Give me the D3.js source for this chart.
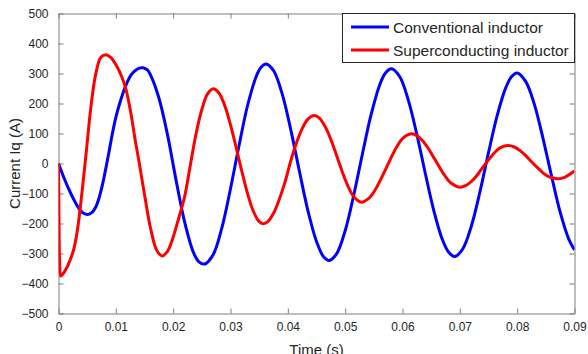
<!DOCTYPE html>
<html lang="en">
  <head>
    <meta charset="utf-8" />
    <style type="text/css">
      body {
        margin: 0;
        background: #fff;
      }
      svg text {
        font-family: "Liberation Sans", Arial, sans-serif;
        fill: #262626;
      }
      .axis path,
      .axis line {
        stroke: #7f7f7f;
      }
    </style>
  </head>
  <body>
    <svg width="588" height="354"></svg>

    <script src="https://d3js.org/d3.v7.min.js"></script>
    <script type="text/javascript">
      // time in ms, current in A
      var blueT = [0, 1, 1.9, 2.8, 3.6, 4.3, 5.1, 5.8, 6.5, 7.1, 7.7, 8.3, 8.85, 9.4, 10, 10.6, 11.2, 12, 12.7, 13.4, 14.1, 14.75,
        15.5, 16, 17.5, 19, 20.5, 22, 23.5, 24.5, 25.5, 27, 28.5, 30, 31.5, 33, 34.5, 35.3, 36.2,
        37.5, 39, 40.5, 42, 43.5, 45, 46.2, 47.2, 48.5, 50, 51.5, 53, 54.5, 56, 57, 58.05,
        59.5, 61, 62.5, 64, 65.5, 67, 68.1, 69.1, 70.5, 72, 73.5, 75, 76.5, 78, 79, 80,
        81.5, 83, 84.5, 86, 87.5, 89, 90];
      var blueI = [0, -50, -90, -125, -151, -165, -170, -164, -145, -113, -68, -12, 43, 100, 154, 196, 232, 271, 296, 310, 318, 319,
        312, 297, 219, 97, -55, -195, -295, -328, -335, -303, -214, -84, 61, 195, 291, 320, 332,
        310, 233, 114, -24, -157, -260, -310, -323, -301, -224, -105, 31, 161, 261, 301, 316,
        290, 212, 97, -35, -160, -256, -297, -310, -285, -209, -95, 36, 159, 252, 289, 302,
        273, 197, 84, -42, -162, -252, -288];

      var redT = [0, 0.1, 0.2, 0.4, 0.9, 1.5, 2, 2.6, 3.2, 3.75, 4.3, 4.8, 5.65, 6.5, 7.4, 8.4, 9.2, 10, 10.9, 11.7, 12.6, 13.4, 14.1,
        15.1, 16.1, 17.1, 18.05, 19, 20, 21, 22, 23, 24, 25, 26, 27, 28, 29, 30, 31, 32, 33, 34, 35, 35.7,
        36.5, 37.5, 38.5, 39.5, 40.5, 41.5, 42.5, 43.5, 44.6, 45.5, 46.5, 47.5, 48.5, 49.5, 50.5, 51.5, 52.8,
        54, 55, 56, 57, 58, 59, 60, 61.5, 62.5, 63.5, 64.5, 65.5, 66.5, 67.5, 68.5, 70,
        71, 72, 73, 74, 75, 76, 77, 78.3, 79.5, 80.5, 81.5, 82.5, 83.5, 84.5, 85.5, 86.9, 88, 89, 90];
      var redI = [0, -210, -330, -375, -365, -345, -323, -290, -234, -155, -60, 30, 188, 299, 354, 362, 352, 330, 295, 252, 170, 75, 0,
        -115, -220, -288, -308, -293, -245, -180, -110, -5, 100, 180, 232, 249, 234, 193, 129, 52, -28, -102, -160, -194, -201,
        -194, -166, -120, -62, 8, 68, 116, 148, 160, 151, 123, 80, 27, -28, -76, -111, -129,
        -118, -95, -61, -21, 19, 56, 83, 99, 93, 76, 50, 18, -14, -44, -66, -79,
        -74, -60, -39, -13, 12, 35, 52, 60, 55, 43, 26, 6, -13, -31, -44, -51, -48, -38, -25];

      var xTicks = [0, 0.01, 0.02, 0.03, 0.04, 0.05, 0.06, 0.07, 0.08, 0.09];
      var yTicks = [-500, -400, -300, -200, -100, 0, 100, 200, 300, 400, 500];
      var seriesNames = ["Conventional inductor", "Superconducting inductor"];
      var seriesColors = ["#0000ff", "#ff0000"];

      var svg = d3.select("svg");
      var plotL = 58.5, plotR = 574.5, plotT = 13.5, plotB = 313.5;

      var x = d3.scaleLinear().domain([0, 0.09]).range([plotL, plotR]);
      var y = d3.scaleLinear().domain([-500, 500]).range([plotB, plotT]);

      var blue = blueT.map(function (t, i) { return [t / 1000, blueI[i]]; });
      var red = redT.map(function (t, i) { return [t / 1000, redI[i]]; });

      svg.append("clipPath").attr("id", "clip")
        .append("rect")
        .attr("x", plotL).attr("y", plotT)
        .attr("width", plotR - plotL).attr("height", plotB - plotT);

      var line = d3.line()
        .x(function (d) { return x(d[0]); })
        .y(function (d) { return y(d[1]); })
        .curve(d3.curveCatmullRom.alpha(0.5));

      // axes, MATLAB style box with ticks pointing inward
      var fmtX = function (d) { return d === 0 ? "0" : d3.format(".2f")(d); };

      svg.append("g").attr("class", "axis")
        .attr("transform", "translate(0," + plotB + ")")
        .call(d3.axisBottom(x).tickValues(xTicks).tickSizeInner(-5).tickSizeOuter(0).tickPadding(9).tickFormat(fmtX))
        .selectAll("text").style("font-size", "12px");
      svg.append("g").attr("class", "axis")
        .attr("transform", "translate(0," + plotT + ")")
        .call(d3.axisTop(x).tickValues(xTicks).tickSizeInner(-5).tickSizeOuter(0).tickFormat(""));
      svg.append("g").attr("class", "axis")
        .attr("transform", "translate(" + plotL + ",0)")
        .call(d3.axisLeft(y).tickValues(yTicks).tickSizeInner(-5).tickSizeOuter(0).tickPadding(10))
        .selectAll("text").style("font-size", "12px");
      svg.append("g").attr("class", "axis")
        .attr("transform", "translate(" + plotR + ",0)")
        .call(d3.axisRight(y).tickValues(yTicks).tickSizeInner(-5).tickSizeOuter(0).tickFormat(""));

      svg.selectAll(".axis text").attr("fill", "#262626");

      svg.append("g").attr("clip-path", "url(#clip)")
        .selectAll("path.series")
        .data([blue, red])
        .enter()
        .append("path")
        .attr("class", "series")
        .attr("fill", "none")
        .attr("stroke", function (d, i) { return seriesColors[i]; })
        .attr("stroke-width", 3)
        .attr("stroke-linejoin", "round")
        .attr("d", line);

      // axis titles (the bottom one runs off the edge, as in the original)
      svg.append("text")
        .attr("x", (plotL + plotR) / 2)
        .attr("y", 355)
        .attr("text-anchor", "middle")
        .style("font-size", "15px")
        .text("Time (s)");
      svg.append("text")
        .attr("transform", "translate(20," + (plotT + plotB) / 2 + ") rotate(-90)")
        .attr("text-anchor", "middle")
        .style("font-size", "15px")
        .text("Current Iq (A)");

      // legend
      var legend = svg.append("g");
      legend.append("rect")
        .attr("x", 342.5).attr("y", 13.5)
        .attr("width", 232).attr("height", 49)
        .attr("fill", "#fff")
        .attr("stroke", "#262626");
      var rows = legend.selectAll("g.row")
        .data(seriesNames)
        .enter()
        .append("g")
        .attr("class", "row")
        .attr("transform", function (d, i) { return "translate(0," + (27 + i * 23) + ")"; });
      rows.append("line")
        .attr("x1", 351).attr("x2", 389)
        .attr("stroke", function (d, i) { return seriesColors[i]; })
        .attr("stroke-width", 3);
      rows.append("text")
        .attr("x", 393)
        .attr("y", 5.5)
        .style("font-size", "15.5px")
        .text(function (d) { return d; });
    </script>
  </body>
</html>
